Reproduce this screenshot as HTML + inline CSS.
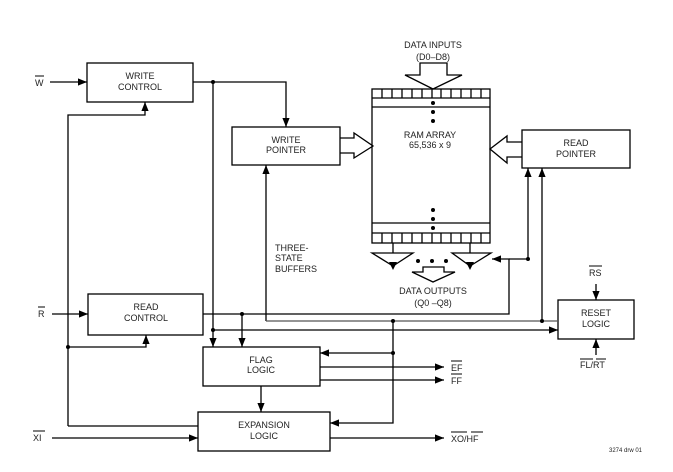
<!DOCTYPE html>
<html><head><meta charset="utf-8"><style>
html,body{margin:0;padding:0;background:#fff;}
svg{display:block;}
text{font-family:"Liberation Sans",sans-serif;font-size:9px;fill:#222;}
</style></head><body>
<svg width="673" height="472" viewBox="0 0 673 472" xmlns="http://www.w3.org/2000/svg">
<defs>
<marker id="a" viewBox="0 0 10 10" refX="10" refY="5" markerWidth="9" markerHeight="9" markerUnits="userSpaceOnUse" orient="auto"><path d="M0,1 L10,5 L0,9 z" fill="#000"/></marker>
</defs>
<g fill="none" stroke="#000" stroke-width="1.3">
<rect x="87" y="63" width="106" height="39"/>
<rect x="232" y="127" width="108" height="38"/>
<rect x="522" y="130" width="108" height="38"/>
<rect x="372" y="89" width="118" height="154"/>
<rect x="88" y="294" width="115" height="41"/>
<rect x="558" y="300" width="76" height="39"/>
<rect x="203" y="347" width="117" height="39"/>
<rect x="198" y="412" width="132" height="39"/>
<line x1="372" y1="98" x2="490" y2="98"/><line x1="372" y1="107" x2="490" y2="107"/>
<line x1="372" y1="223" x2="490" y2="223"/><line x1="372" y1="233" x2="490" y2="233"/>
<path d="M382,89v9M392,89v9M402,89v9M412,89v9M422,89v9M432,89v9M441,89v9M451,89v9M461,89v9M471,89v9M481,89v9"/>
<path d="M382,233v10M392,233v10M402,233v10M412,233v10M422,233v10M432,233v10M441,233v10M451,233v10M461,233v10M471,233v10M481,233v10"/>
<path d="M420,63 H447 V75 H462 L433,89 L405,75 H420 Z"/>
<path d="M340,138 H354 V133 L373,146 L354,158 V153 H340"/>
<path d="M522,142 H507 V136 L490,149 L507,163 V157 H522"/>
<path d="M423,267 H444 V272 H455 L433,282 L412,272 H423 Z"/>
<path d="M393,243 V253 M372,253 H413 L393,266 Z"/>
<path d="M470,243 V253 M452,253 H491 L470,266 Z"/>
<line x1="50" y1="82" x2="87" y2="82" marker-end="url(#a)"/>
<path d="M193,82 H286 V127" marker-end="url(#a)"/>
<path d="M213,82 V347" marker-end="url(#a)"/>
<path d="M68,426 V115 H145 V102" marker-end="url(#a)"/>
<path d="M68,347 H146 V335" marker-end="url(#a)"/>
<path d="M68,426 H198"/>
<line x1="52" y1="314" x2="88" y2="314" marker-end="url(#a)"/>
<path d="M203,314 H509 V259 H492" marker-end="url(#a)"/>
<path d="M242,314 V347" marker-end="url(#a)"/>
<path d="M213,330 H558" marker-end="url(#a)"/>
<path d="M266,321 V165" marker-end="url(#a)"/>
<line x1="266" y1="321" x2="558" y2="321" stroke="#555"/>
<path d="M528,259 V168" marker-end="url(#a)"/>
<path d="M509,259 H528"/>
<path d="M542,321 V168" marker-end="url(#a)"/>
<path d="M393,321 V423 H330" marker-end="url(#a)"/>
<path d="M393,353 H320" marker-end="url(#a)"/>
<path d="M320,367 H444" marker-end="url(#a)"/>
<path d="M320,380 H444" marker-end="url(#a)"/>
<path d="M261,386 V412" marker-end="url(#a)"/>
<path d="M52,438 H198" marker-end="url(#a)"/>
<path d="M330,438 H444" marker-end="url(#a)"/>
<path d="M596,284 V300" marker-end="url(#a)"/>
<path d="M596,355 V339" marker-end="url(#a)"/>
<path d="M35,76H44 M38,307H45 M33,431H45 M451,361H462 M451,374H462 M451,432H467 M471,432H483 M589,266H602 M580,359H593 M596,359H606" stroke-width="1"/>
</g>
<g fill="#000">
<circle cx="213" cy="82" r="2"/><circle cx="68" cy="347" r="2"/><circle cx="242" cy="314" r="2"/>
<circle cx="213" cy="330" r="2"/><circle cx="393" cy="321" r="2"/><circle cx="542" cy="321" r="2"/>
<circle cx="528" cy="259" r="2"/><circle cx="393" cy="353" r="2"/>
<circle cx="433" cy="103" r="2"/><circle cx="433" cy="112" r="2"/><circle cx="433" cy="121" r="2"/>
<circle cx="433" cy="210" r="2"/><circle cx="433" cy="219" r="2"/><circle cx="433" cy="228" r="2"/>
<circle cx="418" cy="261" r="2"/><circle cx="432" cy="261" r="2"/><circle cx="446" cy="261" r="2"/>
<path d="M389,262 L397,262 L393,270 Z"/><path d="M466,262 L474,262 L470,270 Z"/>
</g>
<g text-anchor="middle">
<text x="140" y="79">WRITE</text><text x="140" y="90">CONTROL</text>
<text x="286" y="143">WRITE</text><text x="286" y="153">POINTER</text>
<text x="576" y="146">READ</text><text x="576" y="157">POINTER</text>
<text x="430" y="138">RAM ARRAY</text><text x="430" y="148">65,536 x 9</text>
<text x="433" y="48">DATA INPUTS</text><text x="433" y="60">(D0–D8)</text>
<text x="433" y="294">DATA OUTPUTS</text><text x="433" y="306">(Q0 –Q8)</text>
<text x="146" y="310">READ</text><text x="146" y="321">CONTROL</text>
<text x="596" y="316">RESET</text><text x="596" y="327">LOGIC</text>
<text x="261" y="363">FLAG</text><text x="261" y="373">LOGIC</text>
<text x="264" y="428">EXPANSION</text><text x="264" y="439">LOGIC</text>
</g>
<text x="35" y="86">W</text>
<text x="38" y="317">R</text>
<text x="33" y="441">XI</text>
<text x="275" y="251">THREE-</text><text x="275" y="261">STATE</text><text x="275" y="272">BUFFERS</text>
<text x="451" y="371">EF</text><text x="451" y="384">FF</text>
<text x="451" y="442">XO/HF</text>
<text x="589" y="276">RS</text>
<text x="580" y="368">FL/RT</text>
<text x="609" y="452" style="font-size:6px">3274 drw 01</text>
</svg>
</body></html>
